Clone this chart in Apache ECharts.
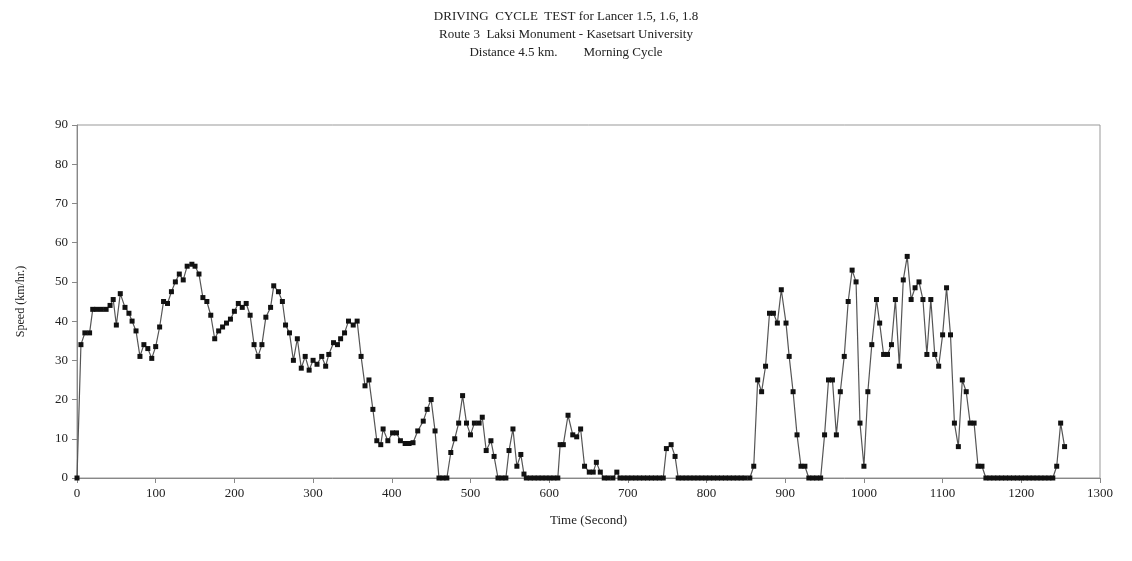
<!DOCTYPE html>
<html>
<head>
<meta charset="utf-8">
<script src="https://cdn.jsdelivr.net/npm/echarts@6/dist/echarts.min.js"></script>
<style>
  html, body { margin: 0; padding: 0; background: #fff; }
  #chart { width: 1132px; height: 561px; }
</style>
</head>
<body>
<div id="chart"></div>
<script>
// time (s) and speed (km/hr)
var timeSec = [
  0, 5, 10, 16, 20, 25, 31, 37, 42, 46, 50, 55, 61, 66, 70, 75, 80, 85, 90, 95,
  100, 105, 110, 115, 120, 125, 130, 135, 140, 146, 150, 155, 160, 165, 170, 175, 180, 185, 190, 195,
  200, 205, 210, 215, 220, 225, 230, 235, 240, 246, 250, 256, 261, 265, 270, 275, 280, 285, 290, 295,
  300, 305, 311, 316, 320, 326, 331, 335, 340, 345, 351, 356, 361, 366, 371, 376, 381, 386, 389, 395,
  401, 406, 411, 417, 422, 427, 433, 440, 445, 450, 455, 460, 465, 470, 475, 480, 485, 490, 495, 500,
  505, 511, 515, 520, 526, 530, 535, 540, 545, 549, 554, 559, 564, 568, 571, 576, 581, 586, 591, 596,
  601, 606, 611, 614, 618, 624, 630, 635, 640, 645, 651, 656, 660, 665, 670, 675, 681, 686, 690, 695,
  700, 705, 710, 715, 720, 725, 730, 735, 740, 745, 749, 755, 760, 764, 769, 774, 779, 784, 789, 794,
  799, 804, 809, 814, 819, 824, 829, 834, 839, 844, 849, 855, 860, 865, 870, 875, 880, 885, 890, 895,
  901, 905, 910, 915, 920, 925, 930, 935, 940, 945, 950, 955, 960, 965, 970, 975, 980, 985, 990, 995,
  1000, 1005, 1010, 1016, 1020, 1025, 1030, 1035, 1040, 1045, 1050, 1055, 1060, 1065, 1070, 1075, 1080, 1085, 1090, 1095,
  1100, 1105, 1110, 1115, 1120, 1125, 1130, 1135, 1140, 1145, 1150, 1155, 1160, 1165, 1170, 1175, 1180, 1185, 1190, 1195,
  1200, 1205, 1210, 1215, 1220, 1225, 1230, 1235, 1240, 1245, 1250, 1255
]
var speedKmh = [
  0, 34, 37, 37, 43, 43, 43, 43, 44, 45.5, 39, 47, 43.5, 42, 40, 37.5, 31, 34, 33, 30.5,
  33.5, 38.5, 45, 44.5, 47.5, 50, 52, 50.5, 54, 54.5, 54, 52, 46, 45, 41.5, 35.5, 37.5, 38.5, 39.5, 40.5,
  42.5, 44.5, 43.5, 44.5, 41.5, 34, 31, 34, 41, 43.5, 49, 47.5, 45, 39, 37, 30, 35.5, 28, 31, 27.5,
  30, 29, 31, 28.5, 31.5, 34.5, 34, 35.5, 37, 40, 39, 40, 31, 23.5, 25, 17.5, 9.5, 8.5, 12.5, 9.5,
  11.5, 11.5, 9.5, 8.8, 8.8, 9, 12, 14.5, 17.5, 20, 12, 0, 0, 0, 6.5, 10, 14, 21, 14, 11,
  14, 14, 15.5, 7, 9.5, 5.5, 0, 0, 0, 7, 12.5, 3, 6, 1, 0, 0, 0, 0, 0, 0,
  0, 0, 0, 8.5, 8.5, 16, 11, 10.5, 12.5, 3, 1.5, 1.5, 4, 1.5, 0, 0, 0, 1.5, 0, 0,
  0, 0, 0, 0, 0, 0, 0, 0, 0, 0, 7.5, 8.5, 5.5, 0, 0, 0, 0, 0, 0, 0,
  0, 0, 0, 0, 0, 0, 0, 0, 0, 0, 0, 0, 3, 25, 22, 28.5, 42, 42, 39.5, 48,
  39.5, 31, 22, 11, 3, 3, 0, 0, 0, 0, 11, 25, 25, 11, 22, 31, 45, 53, 50, 14,
  3, 22, 34, 45.5, 39.5, 31.5, 31.5, 34, 45.5, 28.5, 50.5, 56.5, 45.5, 48.5, 50, 45.5, 31.5, 45.5, 31.5, 28.5,
  36.5, 48.5, 36.5, 14, 8, 25, 22, 14, 14, 3, 3, 0, 0, 0, 0, 0, 0, 0, 0, 0,
  0, 0, 0, 0, 0, 0, 0, 0, 0, 3, 14, 8
]
var titleLines = [
  'DRIVING  CYCLE  TEST for Lancer 1.5, 1.6, 1.8',
  'Route 3  Laksi Monument - Kasetsart University',
  'Distance 4.5 km.        Morning Cycle'
]

var points = timeSec.map(function (t, i) { return [t, speedKmh[i]] })

var serif = '"Liberation Serif", "DejaVu Serif", serif'
var chart = echarts.init(document.getElementById('chart'))
chart.setOption({
  animation: false,
  backgroundColor: '#fff',
  title: {
    text: titleLines.join('\n'),
    left: 'center',
    top: 3,
    textStyle: {
      fontFamily: serif,
      fontSize: 13,
      fontWeight: 'normal',
      color: '#222',
      lineHeight: 18
    }
  },
  grid: {
    left: 77,
    right: 32,
    top: 125,
    bottom: 83,
    show: true,
    borderColor: '#999',
    borderWidth: 1
  },
  xAxis: {
    type: 'value',
    min: 0,
    max: 1300,
    interval: 100,
    name: 'Time (Second)',
    nameLocation: 'middle',
    nameGap: 36,
    nameTextStyle: { fontFamily: serif, fontSize: 13, color: '#222' },
    axisLine: { lineStyle: { color: '#888' } },
    axisTick: { inside: false, length: 5, lineStyle: { color: '#888' } },
    axisLabel: {
      fontFamily: serif, fontSize: 13, color: '#222', margin: 9,
      formatter: function (v) { return String(v) }
    },
    splitLine: { show: false }
  },
  yAxis: {
    type: 'value',
    min: 0,
    max: 90,
    interval: 10,
    name: 'Speed (km/hr.)',
    nameLocation: 'middle',
    nameGap: 50,
    nameTextStyle: { fontFamily: serif, fontSize: 12, color: '#222' },
    axisLine: { show: true, lineStyle: { color: '#888' } },
    axisTick: { show: true, length: 5, lineStyle: { color: '#888' } },
    axisLabel: { fontFamily: serif, fontSize: 13, color: '#222', margin: 9 },
    splitLine: { show: false }
  },
  series: [
    {
      type: 'line',
      data: points,
      symbol: 'rect',
      symbolSize: 5,
      itemStyle: { color: '#111' },
      lineStyle: { color: '#555', width: 1.2 }
    }
  ]
})
</script>
</body>
</html>
